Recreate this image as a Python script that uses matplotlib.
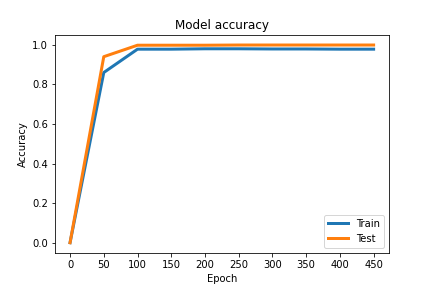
import matplotlib
matplotlib.use("Agg")
import matplotlib.pyplot as plt

epochs = [0, 50, 100, 150, 200, 250, 300, 350, 400, 450]
train = [0.0, 0.86, 0.978, 0.978, 0.98, 0.98, 0.979, 0.979, 0.978, 0.978]
test = [0.0, 0.94, 0.998, 0.998, 0.998, 0.999, 0.999, 0.999, 0.999, 0.999]

fig, ax = plt.subplots(figsize=(6, 4), dpi=72)
fig.subplots_adjust(left=0.127, right=0.9, top=0.878, bottom=0.123)
ax.plot(epochs, train, linewidth=3, label="Train")
ax.plot(epochs, test, linewidth=3, label="Test")
ax.set_title("Model accuracy")
ax.set_ylabel("Accuracy")
ax.set_xlabel("Epoch")
ax.set_xticks(range(0, 451, 50))
ax.legend(loc="lower right")
fig.savefig("out.png")
